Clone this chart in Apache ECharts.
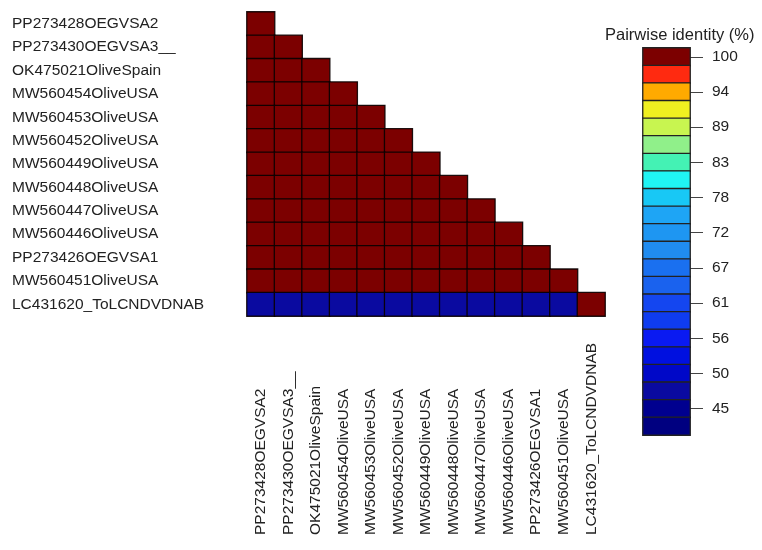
<!DOCTYPE html>
<html>
<head>
<meta charset="utf-8">
<script src="https://cdn.jsdelivr.net/npm/echarts@6/dist/echarts.min.js"></script>
<style>
  html, body { margin: 0; background: #fff; }
  #chart { width: 762px; height: 550px; }
</style>
</head>
<body>
<div id="chart"></div>
<script>
/* global echarts */
const sequences = [
  'PP273428OEGVSA2', 'PP273430OEGVSA3__', 'OK475021OliveSpain',
  'MW560454OliveUSA', 'MW560453OliveUSA', 'MW560452OliveUSA',
  'MW560449OliveUSA', 'MW560448OliveUSA', 'MW560447OliveUSA',
  'MW560446OliveUSA', 'PP273426OEGVSA1', 'MW560451OliveUSA',
  'LC431620_ToLCNDVDNAB'
]

// lower triangle, row i against columns 0..i
const identity = [
  [100],
  [100, 100],
  [100, 100, 100],
  [100, 100, 100, 100],
  [100, 100, 100, 100, 100],
  [100, 100, 100, 100, 100, 100],
  [100, 100, 100, 100, 100, 100, 100],
  [100, 100, 100, 100, 100, 100, 100, 100],
  [100, 100, 100, 100, 100, 100, 100, 100, 100],
  [100, 100, 100, 100, 100, 100, 100, 100, 100, 100],
  [100, 100, 100, 100, 100, 100, 100, 100, 100, 100, 100],
  [100, 100, 100, 100, 100, 100, 100, 100, 100, 100, 100, 100],
  [48, 48, 48, 48, 48, 48, 48, 48, 48, 48, 48, 48, 100]
]

// colour key
const legendLevels = [100, 97.25, 94.5, 91.75, 89, 86.25, 83.5, 80.75, 78, 75.25, 72.5,
  69.75, 67, 64.25, 61.5, 58.75, 56, 53.25, 50.5, 47.75, 45, 42.25]
const legendLabels = ['100', '94', '89', '83', '78', '72', '67', '61', '56', '50', '45']
const legendColors = ['#7c0000', '#ff2a10', '#ffaa00', '#f0f020', '#c8f550', '#90f08a',
  '#44f2b4', '#20f4f4', '#18c8f5', '#1ea5f5', '#1e96f2', '#208cf0', '#1a70f0', '#1a62ee',
  '#1446f0', '#0f3cf0', '#0a1af2', '#0010e0', '#0008c8', '#0a0aa0', '#00008f', '#000080']

const font = "'Liberation Sans', Arial, sans-serif"
const half = 1.375

function buildPieces () {
  return legendLevels.map((lv, i) => ({
    gt: lv - half,
    lte: lv + half,
    color: legendColors[i]
  }))
}

function buildCells () {
  const cells = []
  identity.forEach((row, i) => {
    row.forEach((v, j) => cells.push([j, i, v]))
  })
  return cells
}

const chart = echarts.init(document.getElementById('chart'))
chart.setOption({
  animation: false,
  textStyle: { fontFamily: font },
  title: {
    text: 'Pairwise identity (%)',
    left: 605,
    top: 27,
    padding: 0,
    textStyle: { fontSize: 16.5, fontWeight: 'normal', color: '#222', fontFamily: font }
  },
  visualMap: {
    type: 'piecewise',
    show: false,
    dimension: 2,
    seriesIndex: [0, 1],
    pieces: buildPieces()
  },
  grid: [
    { left: 247, top: 12, width: 358, height: 304 },
    { left: 643, top: 48, width: 47, height: 387 }
  ],
  xAxis: [
    {
      gridIndex: 0,
      type: 'category',
      data: sequences,
      axisLine: { show: false },
      axisTick: { show: false },
      splitLine: { show: false },
      axisLabel: {
        interval: 0,
        rotate: 90,
        align: 'left',
        margin: 219,
        fontSize: 15.5,
        color: '#222'
      }
    },
    { gridIndex: 1, type: 'category', data: ['key'], show: false }
  ],
  yAxis: [
    {
      gridIndex: 0,
      type: 'category',
      inverse: true,
      data: sequences,
      axisLine: { show: false },
      axisTick: { show: false },
      splitLine: { show: false },
      axisLabel: {
        interval: 0,
        align: 'left',
        margin: 235,
        padding: [0, 0, 9, 0],
        fontSize: 15.5,
        color: '#222'
      }
    },
    {
      gridIndex: 1,
      type: 'category',
      inverse: true,
      position: 'right',
      data: legendLevels.map(String),
      axisLine: { show: false },
      axisTick: {
        show: true,
        alignWithLabel: true,
        length: 13,
        interval: (i) => i % 2 === 0,
        lineStyle: { color: '#444', width: 1 }
      },
      axisLabel: {
        interval: (i) => i % 2 === 0,
        margin: 22,
        fontSize: 15.5,
        color: '#222',
        formatter: (v, i) => legendLabels[i / 2]
      }
    }
  ],
  series: [
    {
      type: 'heatmap',
      xAxisIndex: 0,
      yAxisIndex: 0,
      data: buildCells(),
      itemStyle: { borderColor: 'rgba(10,0,0,0.9)', borderWidth: 1.3 },
      emphasis: { disabled: true }
    },
    {
      type: 'heatmap',
      xAxisIndex: 1,
      yAxisIndex: 1,
      data: legendLevels.map((lv, k) => [0, k, lv]),
      itemStyle: { borderColor: '#222', borderWidth: 1.3 },
      emphasis: { disabled: true }
    }
  ]
})

window.onresize = () => {
  chart.resize()
}
</script>
</body>
</html>
